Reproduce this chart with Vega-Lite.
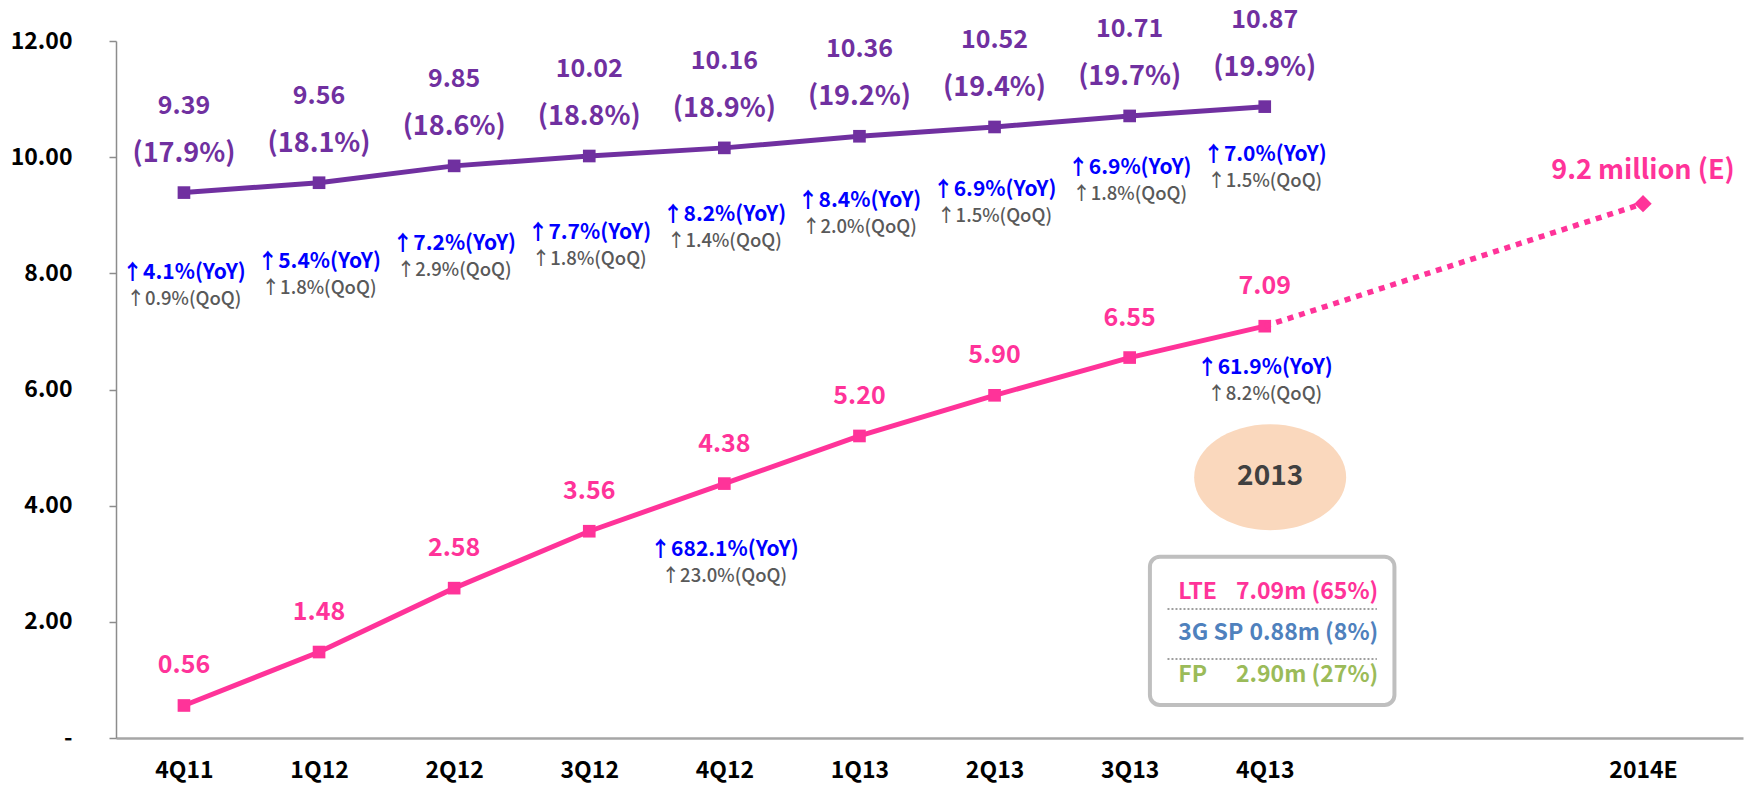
{
  "$schema": "https://vega.github.io/schema/vega-lite/v6.json",
  "autosize": "none",
  "width": 1627,
  "height": 697,
  "padding": {"left": 116, "top": 41, "right": 7, "bottom": 55},
  "background": "white",
  "config": {
    "view": {"stroke": null},
    "font": "Noto Sans CJK KR",
    "text": {"font": "Noto Sans CJK KR"}
  },
  "datasets": {
    "main": [
      {"q": "4Q11", "t": 0, "total": 9.39, "share": "(17.9%)", "lte": 0.56},
      {"q": "1Q12", "t": 1, "total": 9.56, "share": "(18.1%)", "lte": 1.48},
      {"q": "2Q12", "t": 2, "total": 9.85, "share": "(18.6%)", "lte": 2.58},
      {"q": "3Q12", "t": 3, "total": 10.02, "share": "(18.8%)", "lte": 3.56},
      {"q": "4Q12", "t": 4, "total": 10.16, "share": "(18.9%)", "lte": 4.38},
      {"q": "1Q13", "t": 5, "total": 10.36, "share": "(19.2%)", "lte": 5.20},
      {"q": "2Q13", "t": 6, "total": 10.52, "share": "(19.4%)", "lte": 5.90},
      {"q": "3Q13", "t": 7, "total": 10.71, "share": "(19.7%)", "lte": 6.55},
      {"q": "4Q13", "t": 8, "total": 10.87, "share": "(19.9%)", "lte": 7.09}
    ],
    "forecast": [
      {"q": "4Q13", "t": 8, "lte": 7.09},
      {"q": "2014E", "t": 10.8, "lte": 9.2}
    ],
    "growth": [
      {"t": 0, "lvl": 8.00, "yoy": "↑4.1%(YoY)", "qoq": "↑0.9%(QoQ)"},
      {"t": 1, "lvl": 8.20, "yoy": "↑5.4%(YoY)", "qoq": "↑1.8%(QoQ)"},
      {"t": 2, "lvl": 8.50, "yoy": "↑7.2%(YoY)", "qoq": "↑2.9%(QoQ)"},
      {"t": 3, "lvl": 8.69, "yoy": "↑7.7%(YoY)", "qoq": "↑1.8%(QoQ)"},
      {"t": 4, "lvl": 9.00, "yoy": "↑8.2%(YoY)", "qoq": "↑1.4%(QoQ)"},
      {"t": 5, "lvl": 9.25, "yoy": "↑8.4%(YoY)", "qoq": "↑2.0%(QoQ)"},
      {"t": 6, "lvl": 9.44, "yoy": "↑6.9%(YoY)", "qoq": "↑1.5%(QoQ)"},
      {"t": 7, "lvl": 9.81, "yoy": "↑6.9%(YoY)", "qoq": "↑1.8%(QoQ)"},
      {"t": 8, "lvl": 10.04, "yoy": "↑7.0%(YoY)", "qoq": "↑1.5%(QoQ)"},
      {"t": 4, "lvl": 3.24, "yoy": "↑682.1%(YoY)", "qoq": "↑23.0%(QoQ)"},
      {"t": 8, "lvl": 6.37, "yoy": "↑61.9%(YoY)", "qoq": "↑8.2%(QoQ)"}
    ],
    "box": [{"x": 7.15, "x2": 8.96, "y": 3.12, "y2": 0.57}],
    "seps": [
      {"x": 7.28, "x2": 8.83, "y": 2.22},
      {"x": 7.28, "x2": 8.83, "y": 1.36}
    ],
    "mix": [
      {"lab": "LTE", "val": "7.09m (65%)", "xl": 7.36, "xr": 8.84, "y": 2.51},
      {"lab": "3G SP", "val": "0.88m (8%)", "xl": 7.36, "xr": 8.84, "y": 1.81},
      {"lab": "FP", "val": "2.90m (27%)", "xl": 7.36, "xr": 8.84, "y": 1.08}
    ],
    "badge": [{"t": 8.04, "y": 4.49, "label": "2013"}]
  },
  "layer": [
    {
      "data": {"name": "main"},
      "mark": {"type": "line", "color": "#7030A0", "strokeWidth": 5,
               "point": {"shape": "square", "size": 160, "filled": true, "color": "#7030A0"}},
      "encoding": {
        "x": {"field": "t", "type": "quantitative",
              "scale": {"domain": [-0.503, 11.54], "nice": false, "zero": false},
              "axis": {
                "title": null, "values": [0, 1, 2, 3, 4, 5, 6, 7, 8, 10.8],
                "labelExpr": "datum.value > 10 ? '2014E' : ['4Q11','1Q12','2Q12','3Q12','4Q12','1Q13','2Q13','3Q13','4Q13'][datum.value]",
                "ticks": false, "grid": false, "domainColor": "#A6A6A6", "domainWidth": 2.5,
                "labelFont": "Noto Sans CJK KR", "labelFontWeight": "bold", "labelFontSize": 23,
                "labelColor": "#000000", "labelPadding": 21
              }},
        "y": {"field": "total", "type": "quantitative",
              "scale": {"domain": [0, 12], "nice": false, "zero": true},
              "axis": {
                "title": null, "values": [0, 2, 4, 6, 8, 10, 12],
                "labelExpr": "datum.value == 0 ? '-' : format(datum.value, '.2f')",
                "grid": false, "domainColor": "#8C8C8C", "domainWidth": 1.5,
                "tickColor": "#8C8C8C", "tickSize": 7, "tickWidth": 1.5,
                "labelFont": "Noto Sans CJK KR", "labelFontWeight": "bold", "labelFontSize": 23,
                "labelColor": "#000000", "labelPadding": 37
              }}
      }
    },
    {
      "data": {"name": "main"},
      "mark": {"type": "line", "color": "#FF3399", "strokeWidth": 5,
               "point": {"shape": "square", "size": 160, "filled": true, "color": "#FF3399"}},
      "encoding": {
        "x": {"field": "t", "type": "quantitative"},
        "y": {"field": "lte", "type": "quantitative"}
      }
    },
    {
      "data": {"name": "forecast"},
      "mark": {"type": "line", "color": "#FF3399", "strokeWidth": 5.5, "strokeDash": [6, 6]},
      "encoding": {
        "x": {"field": "t", "type": "quantitative"},
        "y": {"field": "lte", "type": "quantitative"}
      }
    },
    {
      "data": {"name": "forecast"},
      "transform": [{"filter": "datum.q == '2014E'"}],
      "mark": {"type": "point", "shape": "diamond", "size": 300, "filled": true, "color": "#FF3399", "opacity": 1},
      "encoding": {
        "x": {"field": "t", "type": "quantitative"},
        "y": {"field": "lte", "type": "quantitative"}
      }
    },
    {
      "data": {"name": "forecast"},
      "transform": [{"filter": "datum.q == '2014E'"}],
      "mark": {"type": "text", "dy": -33, "fontSize": 27, "fontWeight": "bold", "color": "#FF3399", "baseline": "middle"},
      "encoding": {
        "x": {"field": "t", "type": "quantitative"},
        "y": {"field": "lte", "type": "quantitative"},
        "text": {"value": "9.2 million (E)"}
      }
    },
    {
      "data": {"name": "main"},
      "mark": {"type": "text", "dy": -87, "fontSize": 25, "fontWeight": "bold", "color": "#7030A0", "baseline": "middle"},
      "encoding": {
        "x": {"field": "t", "type": "quantitative"},
        "y": {"field": "total", "type": "quantitative"},
        "text": {"field": "total", "type": "quantitative", "format": ".2f"}
      }
    },
    {
      "data": {"name": "main"},
      "mark": {"type": "text", "dy": -39, "fontSize": 27, "fontWeight": "bold", "color": "#7030A0", "baseline": "middle"},
      "encoding": {
        "x": {"field": "t", "type": "quantitative"},
        "y": {"field": "total", "type": "quantitative"},
        "text": {"field": "share"}
      }
    },
    {
      "data": {"name": "main"},
      "mark": {"type": "text", "dy": -40, "fontSize": 25, "fontWeight": "bold", "color": "#FF3399", "baseline": "middle"},
      "encoding": {
        "x": {"field": "t", "type": "quantitative"},
        "y": {"field": "lte", "type": "quantitative"},
        "text": {"field": "lte", "type": "quantitative", "format": ".2f"}
      }
    },
    {
      "data": {"name": "growth"},
      "mark": {"type": "text", "fontSize": 21, "fontWeight": "bold", "color": "#0000FF", "baseline": "middle"},
      "encoding": {
        "x": {"field": "t", "type": "quantitative"},
        "y": {"field": "lvl", "type": "quantitative"},
        "text": {"field": "yoy"}
      }
    },
    {
      "data": {"name": "growth"},
      "mark": {"type": "text", "dy": 26, "fontSize": 18.5, "fontWeight": 500, "color": "#595959", "baseline": "middle"},
      "encoding": {
        "x": {"field": "t", "type": "quantitative"},
        "y": {"field": "lvl", "type": "quantitative"},
        "text": {"field": "qoq"}
      }
    },
    {
      "data": {"name": "badge"},
      "mark": {"type": "point", "shape": "M-1,0A1,0.697,0,1,1,1,0A1,0.697,0,1,1,-1,0Z", "size": 23104, "filled": true, "color": "#FAD8BD", "opacity": 1},
      "encoding": {
        "x": {"field": "t", "type": "quantitative"},
        "y": {"field": "y", "type": "quantitative"}
      }
    },
    {
      "data": {"name": "badge"},
      "mark": {"type": "text", "fontSize": 28, "fontWeight": "bold", "color": "#404040", "baseline": "middle"},
      "encoding": {
        "x": {"field": "t", "type": "quantitative"},
        "y": {"field": "y", "type": "quantitative"},
        "text": {"field": "label"}
      }
    },
    {
      "data": {"name": "box"},
      "mark": {"type": "rect", "fill": "white", "stroke": "#BFBFBF", "strokeWidth": 4, "cornerRadius": 10},
      "encoding": {
        "x": {"field": "x", "type": "quantitative"},
        "x2": {"field": "x2"},
        "y": {"field": "y", "type": "quantitative"},
        "y2": {"field": "y2"}
      }
    },
    {
      "data": {"name": "seps"},
      "mark": {"type": "rule", "color": "#7F7F7F", "strokeWidth": 1.5, "strokeDash": [2, 2]},
      "encoding": {
        "x": {"field": "x", "type": "quantitative"},
        "x2": {"field": "x2"},
        "y": {"field": "y", "type": "quantitative"}
      }
    },
    {
      "data": {"name": "mix"},
      "mark": {"type": "text", "align": "left", "fontSize": 23, "fontWeight": "bold", "baseline": "middle"},
      "encoding": {
        "x": {"field": "xl", "type": "quantitative"},
        "y": {"field": "y", "type": "quantitative"},
        "text": {"field": "lab"},
        "color": {"field": "lab", "type": "nominal", "legend": null,
                  "scale": {"domain": ["LTE", "3G SP", "FP"], "range": ["#FF3399", "#4F81BD", "#9BBB59"]}}
      }
    },
    {
      "data": {"name": "mix"},
      "mark": {"type": "text", "align": "right", "fontSize": 23, "fontWeight": "bold", "baseline": "middle"},
      "encoding": {
        "x": {"field": "xr", "type": "quantitative"},
        "y": {"field": "y", "type": "quantitative"},
        "text": {"field": "val"},
        "color": {"field": "lab", "type": "nominal", "legend": null}
      }
    }
  ]
}
